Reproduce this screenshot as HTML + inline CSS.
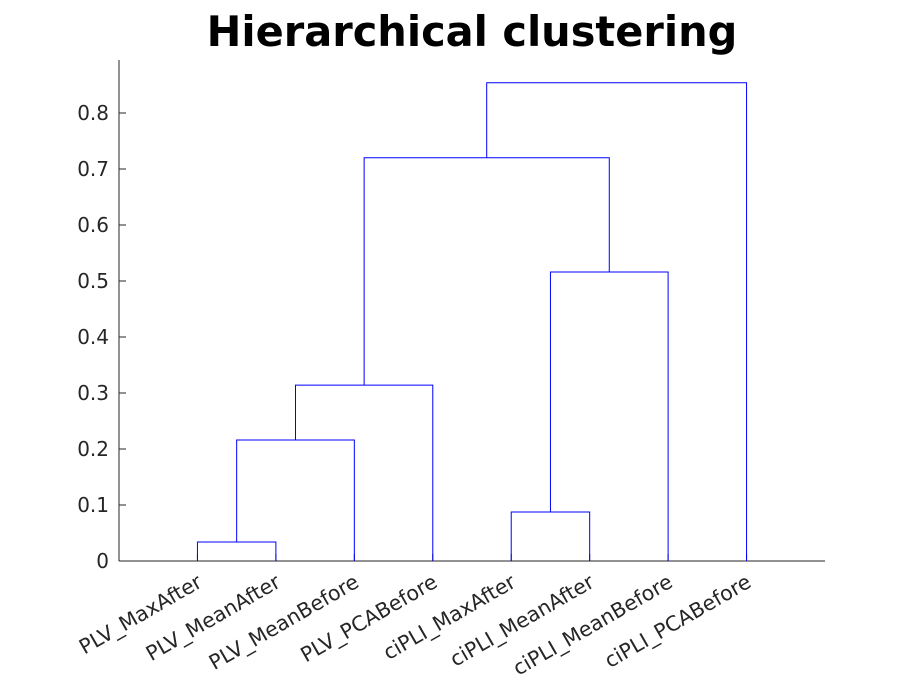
<!DOCTYPE html>
<html><head><meta charset="utf-8"><style>
body{margin:0;background:#fff}
svg{display:block;font-family:"DejaVu Sans","Liberation Sans",sans-serif}
</style></head><body>
<svg id="chart" width="913" height="685">
<text x="472" y="46" text-anchor="middle" font-size="41.5" font-weight="bold" fill="#000">Hierarchical clustering</text>
<g id="axes"></g>
<g id="links"></g>
<g id="labels"></g>
</svg>
<script>
const leafNames = ["PLV_MaxAfter","PLV_MeanAfter","PLV_MeanBefore","PLV_PCABefore","ciPLI_MaxAfter","ciPLI_MeanAfter","ciPLI_MeanBefore","ciPLI_PCABefore"];
// merges: [left node, right node, height]; nodes 1..8 are leaves, 9+ are merged clusters
const mergeLeft = [1, 9, 10, 5, 12, 11, 14];
const mergeRight = [2, 3, 4, 6, 7, 13, 8];
const mergeHeight = [0.034, 0.216, 0.314, 0.0875, 0.516, 0.72, 0.854];
const yTicks = [0,0.1,0.2,0.3,0.4,0.5,0.6,0.7,0.8];

const NS="http://www.w3.org/2000/svg";
const X0=119, X1=825, Y0=561, YTOP=60;
const xs = v => X0 + v*(X1-X0)/9;
const ys = v => Y0 - v*560;
function mk(tag, attrs, parent){const e=document.createElementNS(NS,tag);for(const k in attrs)e.setAttribute(k,attrs[k]);parent.appendChild(e);return e;}
const axes=document.getElementById('axes'), links=document.getElementById('links'), labels=document.getElementById('labels');

let a=mk('line',{x1:X0,y1:YTOP,x2:X0,y2:Y0,stroke:'#262626','stroke-width':1},axes);


a=mk('line',{x1:X0,y1:Y0,x2:X1,y2:Y0,stroke:'#262626','stroke-width':1},axes);


yTicks.forEach(t=>{
  const y=ys(t);
  const tk=mk('line',{x1:X0,y1:y,x2:X0+7,y2:y,stroke:'#262626'},axes);
  
  
  const tx=mk('text',{x:X0-10,y:y+7,'text-anchor':'end','font-size':20,fill:'#262626'},axes);
  tx.textContent=String(t);
  
  
});
const nodeX={}, nodeH={};
leafNames.forEach((n,i)=>{nodeX[i+1]=i+1;nodeH[i+1]=0;
  const lx=xs(i+1);
  const tk=mk('line',{x1:lx,y1:Y0,x2:lx,y2:Y0-7,stroke:'#262626'},axes);
  
  
  const t=mk('text',{x:0,y:0,'text-anchor':'end','font-size':20.5,fill:'#262626',transform:`translate(${lx+6},${Y0+25}) rotate(-30)`},labels);
  t.textContent=n;
  
  
});
mergeHeight.forEach((h,i)=>{
  const l=mergeLeft[i], r=mergeRight[i], id=9+i;
  const xl=xs(nodeX[l]), xr=xs(nodeX[r]);
  const p=mk('path',{d:`M${xl},${ys(nodeH[l])}V${ys(h)}H${xr}V${ys(nodeH[r])}`,fill:'none',stroke:'#0000ff','stroke-width':1},links);
  
  
  nodeX[id]=(nodeX[l]+nodeX[r])/2; nodeH[id]=h;
});
</script>
</body></html>
